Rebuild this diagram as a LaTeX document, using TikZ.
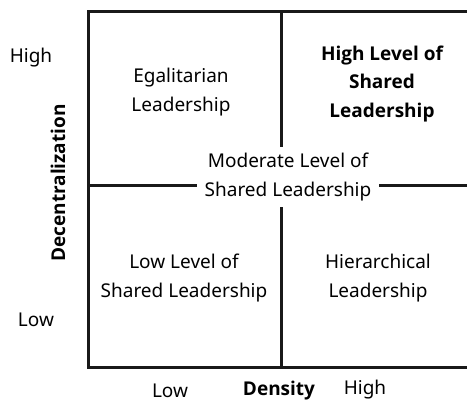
\documentclass[tikz,border=0pt]{standalone}
\usepackage{fontspec}
\setmainfont{Noto Sans}
\newfontfamily\heavyfont{Open Sans}
\usepackage{tikz}
\tikzset{
  quadtxt/.style = {align=center, inner sep=0pt, text centered,
    font=\fontsize{19bp}{28.5bp}\selectfont},
  cell_n/.style = {quadtxt},% ordinary quadrant
  cell_b/.style = {quadtxt, font=\fontsize{19bp}{28.5bp}\selectfont\heavyfont\bfseries},% strongest quadrant
  cell_m/.style = {quadtxt, fill=white, inner xsep=8bp, inner ysep=6.5bp},% centre, on top of the axes
  axis_t/.style = {quadtxt, font=\fontsize{19bp}{28.5bp}\selectfont\heavyfont\bfseries},
  frame/.style = {line width=3bp, black!90}
}

\begin{document}
\begin{tikzpicture}[x=1bp, y=-1bp]
\useasboundingbox (0,0) rectangle (467,403);

% outer frame, open on the right
\draw [frame] (467,11) -- (88,11) -- (88,367) -- (467,367);
% the two dividing lines
\draw [frame] (281,11) -- (281,367);
\draw [frame] (88,185) -- (467,185);

\node [cell_n] (egal) at (181,92) {Egalitarian\\Leadership};
\node [cell_b] (high) at (382,84) {High Level of\\Shared\\Leadership};
\node [cell_n] (low) at (184,278) {Low Level of\\Shared Leadership};
\node [cell_n] (hier) at (378,278) {Hierarchical\\Leadership};
\node [cell_m] (mod) at (288,177) {Moderate Level of\\Shared Leadership};

% axes
\node [quadtxt] (y_hi) at (31,58) {High};
\node [quadtxt] (y_lo) at (36,320) {Low};
\node [axis_t, rotate=90] (y_ax) at (58,183) {Decentralization};
\node [quadtxt] (x_lo) at (170,391) {Low};
\node [axis_t] (x_ax) at (279,391) {Density};
\node [quadtxt] (x_hi) at (365,390) {High};
\end{tikzpicture}
\end{document}
